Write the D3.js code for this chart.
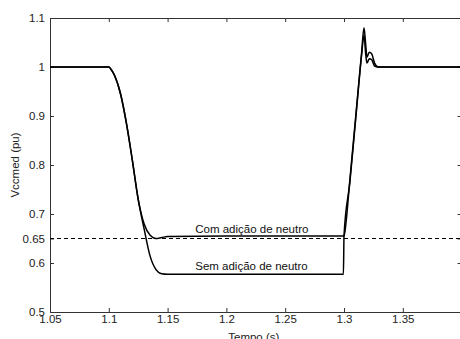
<!DOCTYPE html>
<html>
<head>
<meta charset="utf-8">
<script src="https://cdn.jsdelivr.net/npm/d3@7"></script>
<style>
  body { margin: 0; background: #fff; }
  svg { display: block; font-family: "Liberation Sans", Arial, sans-serif; }
</style>
</head>
<body>
<div id="chart"></div>
<script>
// time (s) and Vccmed (pu)
const comT = [1.05, 1.1, 1.102, 1.105, 1.11, 1.115, 1.12, 1.125, 1.13, 1.135, 1.14, 1.145, 1.15, 1.2, 1.3,
  1.3005, 1.305, 1.31, 1.315, 1.317, 1.3185, 1.3195, 1.3215, 1.3235, 1.326, 1.329, 1.34, 1.4];
const comV = [1, 1, 0.995, 0.982, 0.945, 0.885, 0.81, 0.73, 0.68, 0.657, 0.65, 0.652, 0.654, 0.655, 0.655,
  0.66, 0.77, 0.9, 1.03, 1.08, 1.045, 1.02, 1.03, 1.027, 1.008, 1.0, 1.0, 1.0];

const semT = [1.05, 1.1, 1.102, 1.105, 1.11, 1.115, 1.12, 1.125, 1.13, 1.135, 1.14, 1.145, 1.15, 1.2, 1.2995,
  1.3, 1.305, 1.31, 1.315, 1.317, 1.3185, 1.3195, 1.3215, 1.3235, 1.326, 1.329, 1.34, 1.4];
const semV = [1, 1, 0.995, 0.982, 0.945, 0.885, 0.81, 0.73, 0.67, 0.615, 0.587, 0.578, 0.577, 0.577, 0.577,
  0.655, 0.765, 0.895, 1.025, 1.065, 1.025, 1.008, 1.017, 1.015, 1.002, 1.0, 1.0, 1.0];

const refLevel = 0.65;

const xTicks = [1.05, 1.1, 1.15, 1.2, 1.25, 1.3, 1.35];
const yTicks = [0.5, 0.6, 0.65, 0.7, 0.8, 0.9, 1, 1.1];

const labels = [
  { text: "Com adição de neutro", t: 1.1735, v: 0.661 },
  { text: "Sem adição de neutro", t: 1.1735, v: 0.586 }
];

const width = 460, height = 339;
const mLeft = 50, mRight = 461.6, mTop = 18, mBottom = 312;

const x = d3.scaleLinear().domain([1.05, 1.4]).range([mLeft, mRight]);
const y = d3.scaleLinear().domain([0.5, 1.1]).range([mBottom, mTop]);

const svg = d3.select("#chart").append("svg")
  .attr("width", width)
  .attr("height", height);

const fs = "11.5px";
const axisColor = "#333";

function styleAxis(g) {
  g.select(".domain").attr("stroke", axisColor);
  g.selectAll(".tick line").attr("stroke", axisColor);
  g.selectAll(".tick text").attr("fill", "#222").style("font-size", fs);
}

// bottom / top
svg.append("g")
  .attr("transform", `translate(0,${mBottom})`)
  .call(d3.axisBottom(x).tickValues(xTicks).tickFormat(d3.format("~g"))
    .tickSizeInner(-4).tickSizeOuter(0).tickPadding(3))
  .call(styleAxis)
  .call(g => g.select(".domain").attr("d", `M${mLeft},0.5H${mRight}`));

svg.append("g")
  .attr("transform", `translate(0,${mTop})`)
  .call(d3.axisTop(x).tickValues(xTicks).tickFormat("")
    .tickSizeInner(-4).tickSizeOuter(0))
  .call(styleAxis)
  .call(g => g.select(".domain").attr("d", `M${mLeft},0.5H${mRight}`));

// left / right
svg.append("g")
  .attr("transform", `translate(${mLeft},0)`)
  .call(d3.axisLeft(y).tickValues(yTicks).tickFormat(d3.format("~g"))
    .tickSizeInner(-4).tickSizeOuter(0).tickPadding(5))
  .call(styleAxis);

svg.append("g")
  .attr("transform", `translate(${mRight},0)`)
  .call(d3.axisRight(y).tickValues(yTicks).tickFormat("")
    .tickSizeInner(-4).tickSizeOuter(0))
  .call(styleAxis);

// dashed reference
svg.append("line")
  .attr("x1", x(1.05)).attr("x2", x(1.4))
  .attr("y1", y(refLevel)).attr("y2", y(refLevel))
  .attr("stroke", "#000")
  .attr("stroke-width", 1)
  .attr("stroke-dasharray", "4,3");

const line = d3.line()
  .x(d => x(d[0]))
  .y(d => y(d[1]))
  .curve(d3.curveMonotoneX);

[[comT, comV], [semT, semV]].forEach(([ts, vs]) => {
  svg.append("path")
    .datum(d3.zip(ts, vs))
    .attr("fill", "none")
    .attr("stroke", "#000")
    .attr("stroke-width", 1.5)
    .attr("d", line);
});

svg.append("g")
  .selectAll("text")
  .data(labels)
  .join("text")
    .attr("x", d => x(d.t))
    .attr("y", d => y(d.v))
    .style("font-size", fs)
    .attr("fill", "#111")
    .text(d => d.text);

// axis titles
svg.append("text")
  .attr("x", (mLeft + mRight) / 2 - 2)
  .attr("y", 341)
  .attr("text-anchor", "middle")
  .style("font-size", fs)
  .attr("fill", "#222")
  .text("Tempo (s)");

svg.append("text")
  .attr("transform", `translate(19,${(mTop + mBottom) / 2}) rotate(-90)`)
  .attr("text-anchor", "middle")
  .style("font-size", fs)
  .attr("fill", "#222")
  .text("Vccmed (pu)");
</script>
</body>
</html>
